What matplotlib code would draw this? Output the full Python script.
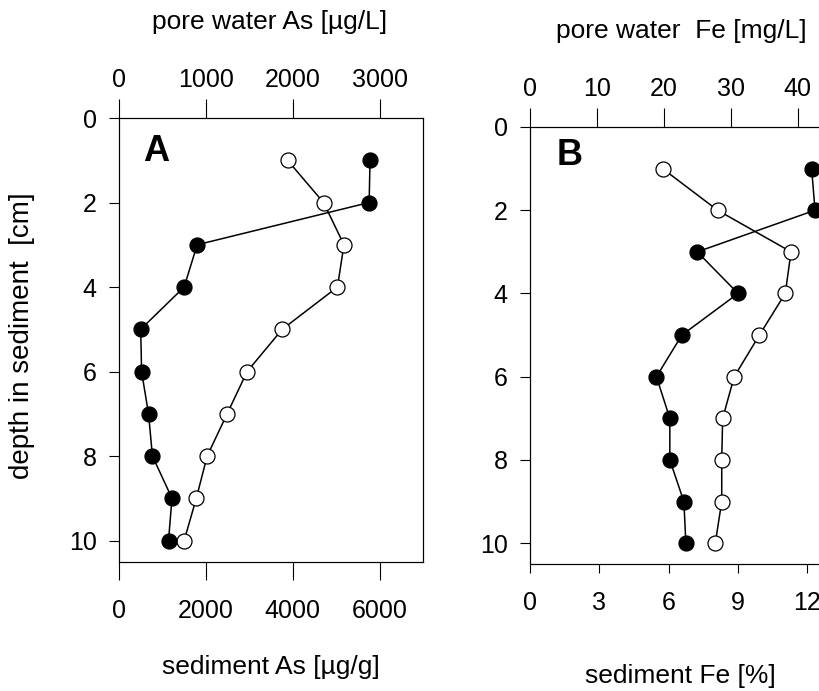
import numpy as np
import matplotlib
matplotlib.use("Agg")
import matplotlib.pyplot as plt

plt.rcParams['font.family'] = ['Liberation Sans', 'DejaVu Sans']

# depth of each sample [cm]
depth = [1, 2, 3, 4, 5, 6, 7, 8, 9, 10]

# panel A: arsenic
pw_as = [2890, 2880, 900, 750, 250, 260, 340, 385, 610, 570]         # pore water [ug/L], filled
sed_as = [3880, 4710, 5180, 5030, 3760, 2950, 2490, 2030, 1780, 1500]  # sediment [ug/g], open

# panel B: iron
pw_fe = [42.1, 42.6, 25.0, 31.1, 22.7, 18.9, 20.9, 20.9, 23.0, 23.3]  # pore water [mg/L], filled
sed_fe = [5.74, 8.12, 11.3, 11.05, 9.93, 8.84, 8.34, 8.3, 8.3, 8.02]   # sediment [%], open

as_top_ticks = [0, 1000, 2000, 3000]
as_bot_ticks = [0, 2000, 4000, 6000]
fe_top_ticks = [0, 10, 20, 30, 40]
fe_bot_ticks = [0, 3, 6, 9, 12]
depth_ticks = [0, 2, 4, 6, 8, 10]

W, H = 820, 691
fig = plt.figure(figsize=(W / 100, H / 100), dpi=100)


def px_axes(left, top, right, bottom):
    return fig.add_axes([left / W, 1 - bottom / H, (right - left) / W, (bottom - top) / H])


def panel(ax, bot_x, top_x, bot_lim, top_lim, bot_ticks, top_ticks, bot_len, bot_pad, letter, lx, ly):
    ax.set_ylim(10.5, 0)
    ax.set_xlim(0, bot_lim)
    ax.set_xticks(bot_ticks)
    ax.set_yticks(depth_ticks)
    ax.tick_params(axis='x', direction='out', length=bot_len, width=0.8, pad=bot_pad, labelsize=18)
    ax.tick_params(axis='y', direction='out', length=7, width=0.8, pad=9, labelsize=18)
    for s in ax.spines.values():
        s.set_linewidth(0.8)

    ax2 = ax.twiny()
    ax2.set_xlim(0, top_lim)
    ax2.set_xticks(top_ticks)
    ax2.tick_params(axis='x', direction='out', length=13.7, width=0.8, pad=5, labelsize=18)
    for s in ax2.spines.values():
        s.set_linewidth(0.8)

    ax.plot(bot_x, depth, '-o', color='black', lw=1.1, ms=10.8, mfc='white', mec='black', mew=0.9,
            clip_on=False, zorder=3)
    ax2.plot(top_x, depth, '-o', color='black', lw=1.1, ms=10.8, mfc='black', mec='black', mew=0.9,
             clip_on=False, zorder=3)

    ax.text(lx, ly, letter, transform=ax.transAxes, fontsize=26, fontweight='bold',
            ha='left', va='baseline')
    return ax2


axA = px_axes(119, 118, 423, 561.7)
panel(axA, sed_as, pw_as, 7000, 3500, as_bot_ticks, as_top_ticks, 13, 13.5, 'A', 0.079, 0.903)

axB = px_axes(530, 127, 834, 564)
panel(axB, sed_fe, pw_fe, 13.16, 45.44, fe_bot_ticks, fe_top_ticks, 6.5, 13, 'B', 0.088, 0.913)

fig.text(270 / W, 1 - 22 / H, 'pore water As [\u00b5g/L]', fontsize=19, ha='center', va='center')
fig.text(271 / W, 1 - 667 / H, 'sediment As [\u00b5g/g]', fontsize=19, ha='center', va='center')
fig.text(681 / W, 1 - 31 / H, 'pore water  Fe [mg/L]', fontsize=19, ha='center', va='center')
fig.text(680 / W, 1 - 676 / H, 'sediment Fe [%]', fontsize=19, ha='center', va='center')
fig.text(22 / W, 1 - 336 / H, 'depth in sediment  [cm]', fontsize=20, ha='center', va='center',
         rotation=90)

fig.savefig('out.png', dpi=100)
